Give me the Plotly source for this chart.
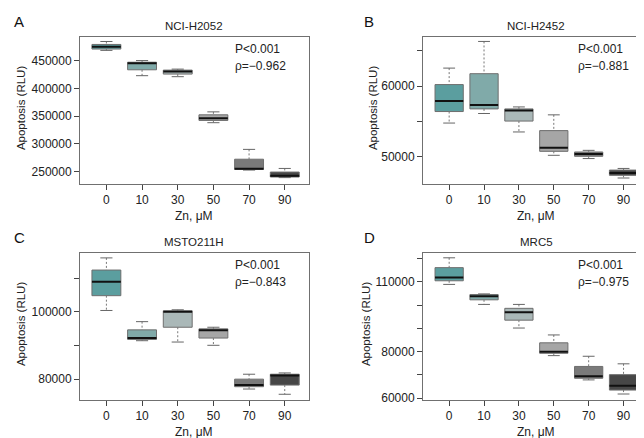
import plotly.graph_objects as go

# Zn concentrations (x categories)
doses = ["0", "10", "30", "50", "70", "90"]
box_colors = ["#5b9e9f", "#80aaa9", "#aab8b8", "#a6a6a6", "#7a7a7a", "#474747"]

# box statistics per panel: lower whisker, q1, median, q3, upper whisker
h2052_low = [468300, 422800, 421000, 338200, 253000, 239400]
h2052_q1 = [470700, 433400, 425700, 342300, 254100, 240500]
h2052_med = [474900, 445300, 430500, 346400, 255300, 242900]
h2052_q3 = [479000, 447000, 432800, 352400, 272500, 249400]
h2052_high = [484300, 450000, 434600, 357700, 290200, 255900]

h2452_low = [54790, 56140, 53530, 50230, 49770, 47020]
h2452_q1 = [56420, 56790, 55070, 50790, 50090, 47400]
h2452_med = [57910, 57350, 56560, 51300, 50420, 47720]
h2452_q3 = [60230, 61770, 56790, 53720, 50700, 48140]
h2452_high = [62560, 66330, 57070, 55950, 50930, 48370]

msto_low = [100390, 91410, 91020, 90050, 77070, 75510]
msto_q1 = [104780, 91800, 95410, 92200, 77760, 78240]
msto_med = [108880, 92200, 100000, 94540, 78240, 81070]
msto_q3 = [112390, 94630, 100290, 94930, 80000, 81460]
msto_high = [116000, 97070, 100590, 95410, 81460, 81850]

mrc5_low = [108870, 100280, 90140, 78310, 67890, 61830]
mrc5_q1 = [110420, 102250, 93520, 79300, 68590, 63520]
mrc5_med = [111830, 103800, 96900, 80000, 69440, 65350]
mrc5_q3 = [116060, 104510, 98590, 83800, 73660, 70140]
mrc5_high = [120280, 104790, 100280, 87180, 78030, 74790]

panels = [
    dict(letter="A", title="NCI-H2052", p="P<0.001", rho="ρ=−0.962",
         stats=(h2052_low, h2052_q1, h2052_med, h2052_q3, h2052_high),
         yrange=[228700, 493100],
         ticks=[250000, 300000, 350000, 400000, 450000],
         labels=["250000", "300000", "350000", "400000", "450000"]),
    dict(letter="B", title="NCI-H2452", p="P<0.001", rho="ρ=−0.881",
         stats=(h2452_low, h2452_q1, h2452_med, h2452_q3, h2452_high),
         yrange=[46234, 67015],
         ticks=[50000, 55000, 60000, 65000],
         labels=["50000", "", "60000", ""]),
    dict(letter="C", title="MSTO211H", p="P<0.001", rho="ρ=−0.843",
         stats=(msto_low, msto_q1, msto_med, msto_q3, msto_high),
         yrange=[73940, 117570],
         ticks=[80000, 90000, 100000, 110000],
         labels=["80000", "", "100000", ""]),
    dict(letter="D", title="MRC5", p="P<0.001", rho="ρ=−0.975",
         stats=(mrc5_low, mrc5_q1, mrc5_med, mrc5_q3, mrc5_high),
         yrange=[59450, 122510],
         ticks=[60000, 70000, 80000, 90000, 100000, 110000, 120000],
         labels=["60000", "", "80000", "", "", "110000", ""]),
]

W, H = 644, 438
FONT = "Liberation Sans, Arial, sans-serif"
TXT = "#222222"

# plot boxes in pixels: (left, right, top, bottom)
frames = [(72, 301, 29, 178), (415, 641, 29, 178),
          (72, 301, 248, 397), (415, 641, 248, 397)]
ytitle_x = [13, 365, 13, 358]


def px_x(v):
    return v / W


def px_y(v):
    return 1 - v / H


fig = go.Figure()
annotations = []
half = 0.405
cap = 0.17

for k, pan in enumerate(panels):
    n = "" if k == 0 else str(k + 1)
    xa, ya = "x" + n, "y" + n
    low, q1, med, q3, high = pan["stats"]
    for i in range(len(doses)):
        # box body
        fig.add_trace(go.Scatter(
            x=[i - half, i + half, i + half, i - half, i - half],
            y=[q1[i], q1[i], q3[i], q3[i], q1[i]],
            mode="lines", fill="toself", fillcolor=box_colors[i],
            line=dict(color="#6e6e6e", width=1),
            xaxis=xa, yaxis=ya, showlegend=False, hoverinfo="skip"))
        # dashed whiskers
        fig.add_trace(go.Scatter(
            x=[i, i, None, i, i],
            y=[high[i], q3[i], None, q1[i], low[i]],
            mode="lines", line=dict(color="#777777", width=1, dash="2px,2px"),
            xaxis=xa, yaxis=ya, showlegend=False, hoverinfo="skip"))
        # whisker caps
        fig.add_trace(go.Scatter(
            x=[i - cap, i + cap, None, i - cap, i + cap],
            y=[high[i], high[i], None, low[i], low[i]],
            mode="lines", line=dict(color="#666666", width=1),
            xaxis=xa, yaxis=ya, showlegend=False, hoverinfo="skip"))
        # median
        fig.add_trace(go.Scatter(
            x=[i - half, i + half], y=[med[i], med[i]],
            mode="lines", line=dict(color="#111111", width=2),
            xaxis=xa, yaxis=ya, showlegend=False, hoverinfo="skip"))

    left, right, top, bottom = frames[k]
    xr = [-0.74, 5.68] if k % 2 == 0 else [-0.75, 5.73]
    axis_common = dict(showline=True, mirror=True, linecolor="#707070",
                       linewidth=1, ticks="outside", ticklen=5,
                       tickcolor="#444444", showgrid=False, zeroline=False,
                       tickfont=dict(family=FONT, size=12, color=TXT))
    fig.layout["xaxis" + n] = dict(
        domain=[px_x(left), px_x(right)], range=xr, anchor=ya,
        tickvals=list(range(len(doses))), ticktext=doses, **axis_common)
    fig.layout["yaxis" + n] = dict(
        domain=[px_y(bottom), px_y(top)], range=pan["yrange"], anchor=xa,
        tickvals=pan["ticks"], ticktext=pan["labels"], **axis_common)

    cx = (left + right) / 2
    lx = 4 if k % 2 == 0 else 354
    small = dict(family=FONT, size=11.5, color=TXT)
    ann_txt = dict(xref="paper", yref="paper", showarrow=False)
    annotations += [
        dict(text=pan["letter"], x=px_x(lx), y=px_y(top - 15), xanchor="left",
             yanchor="middle", font=dict(family=FONT, size=15, color="#111"), **ann_txt),
        dict(text=pan["title"], x=px_x(cx), y=px_y(top - 11), xanchor="center",
             yanchor="middle", font=small, **ann_txt),
        dict(text=pan["p"], x=px_x(left + 153), y=px_y(top + 13), xanchor="left",
             yanchor="middle", font=dict(family=FONT, size=12, color=TXT), **ann_txt),
        dict(text=pan["rho"], x=px_x(left + 153), y=px_y(top + 30), xanchor="left",
             yanchor="middle", font=dict(family=FONT, size=12, color=TXT), **ann_txt),
        dict(text="Zn, μM", x=px_x(cx), y=px_y(bottom + 33), xanchor="center",
             yanchor="middle", font=dict(family=FONT, size=12, color=TXT), **ann_txt),
        dict(text="Apoptosis (RLU)", x=px_x(ytitle_x[k]),
             y=px_y((top + bottom) / 2 - 2), xanchor="center", yanchor="middle",
             textangle=-90, font=small, **ann_txt),
    ]

fig.update_layout(width=W, height=H, margin=dict(l=0, r=0, t=0, b=0),
                  plot_bgcolor="white", paper_bgcolor="white",
                  annotations=annotations, showlegend=False)

fig.write_html("out.html")
